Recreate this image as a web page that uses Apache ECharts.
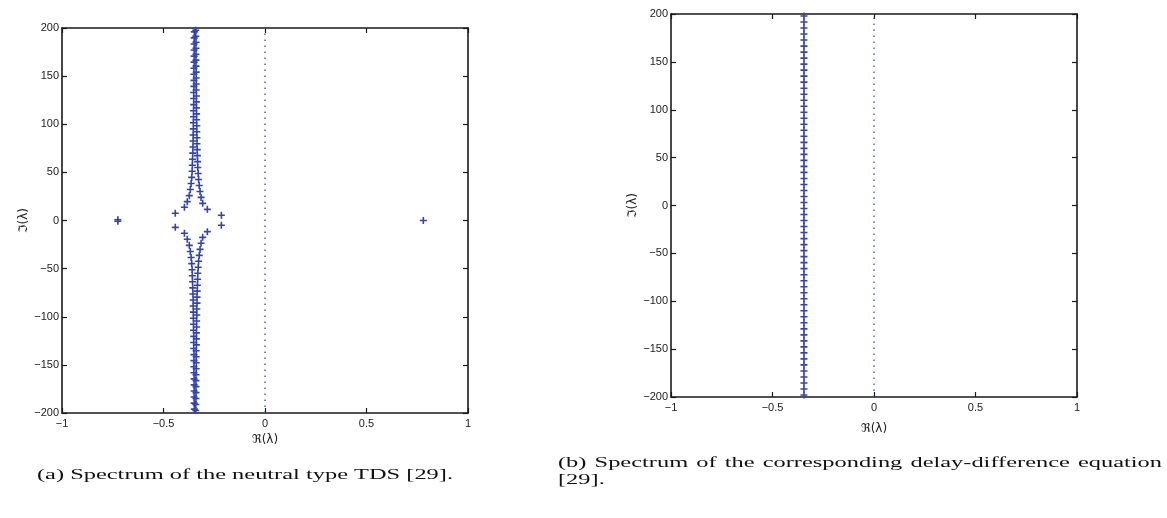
<!DOCTYPE html>
<html>
<head>
<meta charset="utf-8">
<script src="https://cdn.jsdelivr.net/npm/echarts@6/dist/echarts.min.js"></script>
<style>
html,body{margin:0;padding:0;background:#fff;}
#c{width:1167px;height:518px;}
</style>
</head>
<body>
<div id="c"></div>
<script>
// ---------- data ----------
const xTicks = [-1, -0.5, 0, 0.5, 1];
const yTicks = [-200, -150, -100, -50, 0, 50, 100, 150, 200];

// (a) neutral type TDS spectrum: [Re, Im]
const neutralIsolated = [[-0.725, 0.8], [-0.725, -0.8], [0.780, 0.0]];
const neutralUpperLeft = [
  [-0.442, 7.5], [-0.397, 13.7], [-0.383, 19.6], [-0.373, 25.8], [-0.368, 32.2], [-0.364, 38.5],
  [-0.361, 44.8], [-0.359, 51.1], [-0.358, 57.4], [-0.357, 63.7], [-0.356, 70.0], [-0.355, 76.3],
  [-0.354, 82.6], [-0.354, 88.9], [-0.353, 95.2], [-0.353, 101.5], [-0.352, 107.8], [-0.352, 114.1],
  [-0.351, 120.4], [-0.351, 126.7], [-0.351, 133.0], [-0.350, 139.3], [-0.350, 145.6], [-0.350, 151.9],
  [-0.350, 158.2], [-0.349, 164.5], [-0.349, 170.8], [-0.349, 177.1], [-0.349, 183.4], [-0.349, 189.7],
  [-0.348, 196.0]
];
const neutralUpperRight = [
  [-0.215, 5.4], [-0.284, 11.6], [-0.307, 17.8], [-0.315, 24.0], [-0.320, 30.2], [-0.324, 36.4],
  [-0.327, 42.6], [-0.329, 48.8], [-0.331, 55.0], [-0.332, 61.2], [-0.333, 67.4], [-0.334, 73.6],
  [-0.335, 79.8], [-0.335, 86.0], [-0.336, 92.2], [-0.336, 98.4], [-0.337, 104.6], [-0.337, 110.8],
  [-0.338, 117.0], [-0.338, 123.2], [-0.338, 129.4], [-0.339, 135.6], [-0.339, 141.8], [-0.339, 148.0],
  [-0.339, 154.2], [-0.340, 160.4], [-0.340, 166.6], [-0.340, 172.8], [-0.340, 179.0], [-0.340, 185.2],
  [-0.341, 191.4], [-0.341, 197.6]
];
const neutralLowerLeft = [
  [-0.442, -7.1], [-0.397, -13.3], [-0.383, -19.5], [-0.373, -25.8], [-0.368, -32.2], [-0.364, -38.5],
  [-0.361, -44.8], [-0.359, -51.1], [-0.358, -57.4], [-0.357, -63.7], [-0.356, -70.0], [-0.355, -76.3],
  [-0.354, -82.6], [-0.354, -88.9], [-0.353, -95.2], [-0.353, -101.5], [-0.352, -107.8], [-0.352, -114.1],
  [-0.351, -120.4], [-0.351, -126.7], [-0.351, -133.0], [-0.350, -139.3], [-0.350, -145.6], [-0.350, -151.9],
  [-0.350, -158.2], [-0.349, -164.5], [-0.349, -170.8], [-0.349, -177.1], [-0.349, -183.4], [-0.349, -189.7],
  [-0.348, -196.0]
];
const neutralLowerRight = [
  [-0.215, -5.0], [-0.284, -11.6], [-0.307, -17.5], [-0.315, -23.7], [-0.320, -30.0], [-0.324, -36.2],
  [-0.327, -42.4], [-0.329, -48.6], [-0.331, -54.8], [-0.332, -61.0], [-0.333, -67.2], [-0.334, -73.4],
  [-0.335, -79.6], [-0.335, -85.8], [-0.336, -92.0], [-0.336, -98.2], [-0.337, -104.4], [-0.337, -110.6],
  [-0.338, -116.8], [-0.338, -123.0], [-0.338, -129.2], [-0.339, -135.4], [-0.339, -141.6], [-0.339, -147.8],
  [-0.339, -154.0], [-0.340, -160.2], [-0.340, -166.4], [-0.340, -172.6], [-0.340, -178.8], [-0.340, -185.0],
  [-0.341, -191.2], [-0.341, -197.4]
];

// (b) delay-difference equation spectrum
const ddeReal = -0.345;
const ddeImag = [
  3.14, 9.42, 15.71, 21.99, 28.27, 34.56, 40.84, 47.12, 53.41, 59.69, 65.97, 72.26, 78.54, 84.82,
  91.11, 97.39, 103.67, 109.96, 116.24, 122.52, 128.81, 135.09, 141.37, 147.65, 153.94, 160.22,
  166.50, 172.79, 179.07, 185.35, 191.64, 197.92,
  -3.14, -9.42, -15.71, -21.99, -28.27, -34.56, -40.84, -47.12, -53.41, -59.69, -65.97, -72.26, -78.54, -84.82,
  -91.11, -97.39, -103.67, -109.96, -116.24, -122.52, -128.81, -135.09, -141.37, -147.65, -153.94, -160.22,
  -166.50, -172.79, -179.07, -185.35, -191.64, -197.92
];
const imagAxisLine = [[0, -200], [0, 200]];

const captionA = '(a) Spectrum of the neutral type TDS [29].';
const captionBLine1 = ['(b)', 'Spectrum', 'of', 'the', 'corresponding', 'delay-difference', 'equation'];
const captionBLine2 = '[29].';

// ---------- style ----------
const BLUE = '#3343b4';
const DOT = '#3a4ab8';
const AX = '#1a1a1a';
const tickFont = {fontFamily: 'Liberation Sans, Arial, sans-serif', fontSize: 11, color: '#222'};
const fmt = v => String(v).replace('-', '\u2212');
const crossSymbol = 'path://M5,0L5,10M0,5L10,5';

function xAx(grid, pos, show) {
  return {
    type: 'value', gridIndex: grid, position: pos, min: -1, max: 1, interval: 0.5,
    axisLine: {show: true, onZero: false, lineStyle: {color: AX, width: 1.6}},
    axisTick: {show: true, inside: true, length: 5, lineStyle: {color: AX, width: 1.2}},
    axisLabel: Object.assign({show: show, margin: 5, formatter: fmt}, tickFont),
    splitLine: {show: false},
    name: show ? '\u211C(\u03BB)' : '', nameLocation: 'middle', nameGap: grid === 0 ? 21 : 26,
    nameTextStyle: {fontFamily: 'DejaVu Sans, sans-serif', fontSize: 12, color: '#222'}
  };
}
function yAx(grid, pos, show) {
  return {
    type: 'value', gridIndex: grid, position: pos, min: -200, max: 200, interval: 50,
    axisLine: {show: true, onZero: false, lineStyle: {color: AX, width: 1.6}},
    axisTick: {show: true, inside: true, length: 5, lineStyle: {color: AX, width: 1.2}},
    axisLabel: Object.assign({show: show, margin: 3, formatter: fmt}, tickFont),
    splitLine: {show: false},
    name: show ? '\u2111(\u03BB)' : '', nameLocation: 'middle', nameGap: 27, nameRotate: 90,
    nameTextStyle: {fontFamily: 'DejaVu Sans, sans-serif', fontSize: 12, color: '#222'}
  };
}
function scatter(xi, yi, data) {
  return {
    type: 'scatter', xAxisIndex: xi, yAxisIndex: yi, data: data, clip: false,
    symbol: crossSymbol, symbolSize: 7,
    itemStyle: {color: 'rgba(0,0,0,0)', borderColor: BLUE, borderWidth: 1.6, opacity: 1},
    emphasis: {disabled: true}, silent: true, animation: false
  };
}
function dotted(xi, yi) {
  return {
    type: 'line', xAxisIndex: xi, yAxisIndex: yi, data: imagAxisLine, symbol: 'none',
    lineStyle: {color: DOT, width: 1.3, type: [1.6, 4.4]}, silent: true, animation: false
  };
}

const chart = echarts.init(document.getElementById('c'), null, {renderer: 'canvas'});

// captions (serif, horizontally stretched as in the reference)
const capFont = '15px "Liberation Serif"';
const meas = document.createElement('canvas').getContext('2d');
meas.font = capFont;
const aX0 = 37, aX1 = 453;
const sx = (aX1 - aX0) / meas.measureText(captionA).width;
const bX0 = 558, bX1 = 1162;
let wsum = 0;
const widths = captionBLine1.map(w => { const m = meas.measureText(w).width * sx; wsum += m; return m; });
const gap = (bX1 - bX0 - wsum) / (captionBLine1.length - 1);
const graphics = [];
function capText(x, y, t) {
  return {type: 'text', x: x, y: y, scaleX: sx, originX: 0, originY: 0,
          style: {text: t, font: capFont, fill: '#111', textVerticalAlign: 'middle', textAlign: 'left'}};
}
let cx = bX0;
captionBLine1.forEach((w, i) => {
  graphics.push(capText(cx, 463, w));
  cx += widths[i] + gap;
});
graphics.push(capText(bX0, 480, captionBLine2));
graphics.push(capText(aX0, 475, captionA));

const option = {
  animation: false,
  backgroundColor: '#fff',
  grid: [
    {left: 62, top: 28, width: 406, height: 385},
    {left: 671, top: 14, width: 406, height: 383}
  ],
  xAxis: [xAx(0, 'bottom', true), xAx(0, 'top', false), xAx(1, 'bottom', true), xAx(1, 'top', false)],
  yAxis: [yAx(0, 'left', true), yAx(0, 'right', false), yAx(1, 'left', true), yAx(1, 'right', false)],
  series: [
    dotted(0, 0),
    scatter(0, 0, neutralIsolated),
    scatter(0, 0, neutralUpperLeft),
    scatter(0, 0, neutralUpperRight),
    scatter(0, 0, neutralLowerLeft),
    scatter(0, 0, neutralLowerRight),
    dotted(2, 2),
    scatter(2, 2, ddeImag.map(im => [ddeReal, im]))
  ],
  graphic: graphics
};
chart.setOption(option);
</script>
</body>
</html>
